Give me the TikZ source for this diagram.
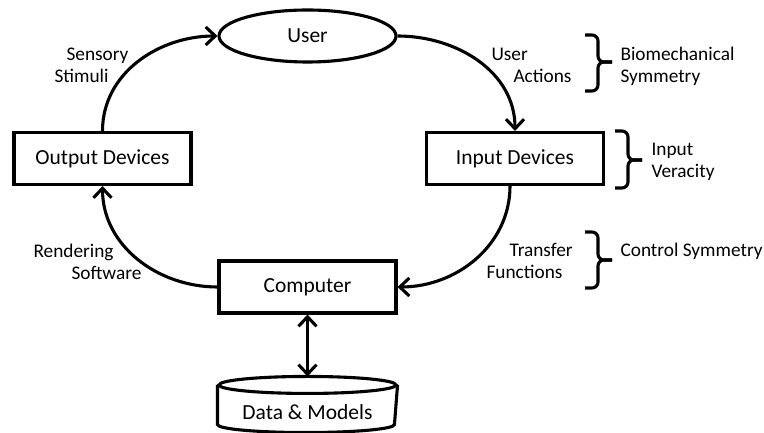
\documentclass[tikz,border=0pt]{standalone}
\usepackage{fontspec}
\setmainfont{Carlito}
\usetikzlibrary{arrows.meta,shapes.geometric,shadows}
\begin{document}
\begin{tikzpicture}[x=1pt,y=1pt,
  line width=3.1pt,
  softshadow/.style={drop shadow={shadow xshift=1.5pt,shadow yshift=-1.5pt,opacity=0.3}},
  box/.style={draw, rectangle, minimum width=177pt, minimum height=52pt,
    inner sep=0pt, fill=white, softshadow, font=\fontsize{21.5}{24}\selectfont},
  oval/.style={draw, ellipse, minimum width=177pt, minimum height=52pt,
    inner sep=0pt, fill=white, softshadow, font=\fontsize{21.5}{24}\selectfont},
  lbl/.style={anchor=base west, inner sep=0pt, font=\fontsize{19.3}{22}\selectfont},
  flow/.style={-{Straight Barb[length=9.5pt,width=18pt]}},
  bothways/.style={{Straight Barb[length=9.5pt,width=18pt]}-{Straight Barb[length=9.5pt,width=18pt]}},
  bracket/.style={rounded corners=6pt}
]
\useasboundingbox (0,0) rectangle (764,433);

% main blocks
\node[oval] (user) at (307.5,397) {User};
\node[box]  (out)  at (102.5,274.5) {Output Devices};
\node[box]  (in)   at (515,274.5) {Input Devices};
\node[box]  (comp) at (307.5,146) {Computer};

% storage cylinder
\node[minimum width=177pt, minimum height=53pt, inner sep=0pt] (data) at (307.5,28.5) {};
\draw ([yshift=-8.5pt]data.north) ellipse [x radius=88.5pt, y radius=8.5pt];
\draw ([yshift=-8.5pt]data.north west) -- ([yshift=8pt]data.south west)
      arc[start angle=180, end angle=360, x radius=88.5pt, y radius=8pt]
      -- ([yshift=-8.5pt]data.north east);
\node[anchor=base, inner sep=0pt, font=\fontsize{21.5}{24}\selectfont] (datatxt) at (307.5,13.5) {Data \& Models};

% the interaction loop
\draw[flow] (out.north) to[out=90,in=180] (user.west);
\draw[flow] (user.east) to[out=0,in=90] (in.north);
\draw[flow] ([xshift=-5pt]in.south) to[out=-90,in=0] (comp.east);
\draw[flow] (comp.west) to[out=180,in=-90] (out.south);
\draw[bothways] (comp.south) -- (data.north);

% loop labels
\node[lbl] (l1a) at (65,372) {Sensory};
\node[lbl] (l1b) at (53,350) {Stimuli};
\node[lbl] (l2a) at (490,372) {User};
\node[lbl] (l2b) at (512,350) {Actions};
\node[lbl] (l3a) at (32,175) {Rendering};
\node[lbl] (l3b) at (70,153) {Software};
\node[lbl] (l4a) at (508,176) {Transfer};
\node[lbl] (l4b) at (485,154) {Functions};

% braces and symmetry labels
\draw[bracket] (585,398) -- (598,398) -- (598,371) -- (612,371);
\draw[bracket] (585,342) -- (598,342) -- (598,371) -- (612,371);
\node[lbl] (s1a) at (619,372) {Biomechanical};
\node[lbl] (s1b) at (619,350) {Symmetry};

\draw[bracket] (615,302) -- (628,302) -- (628,273) -- (642,273);
\draw[bracket] (615,245) -- (628,245) -- (628,273) -- (642,273);
\node[lbl] (s2a) at (650,277) {Input};
\node[lbl] (s2b) at (650,255) {Veracity};

\draw[bracket] (585,201) -- (598,201) -- (598,173) -- (612,173);
\draw[bracket] (585,145) -- (598,145) -- (598,173) -- (612,173);
\node[lbl] (s3) at (619,176) {Control Symmetry};
\end{tikzpicture}
\end{document}
